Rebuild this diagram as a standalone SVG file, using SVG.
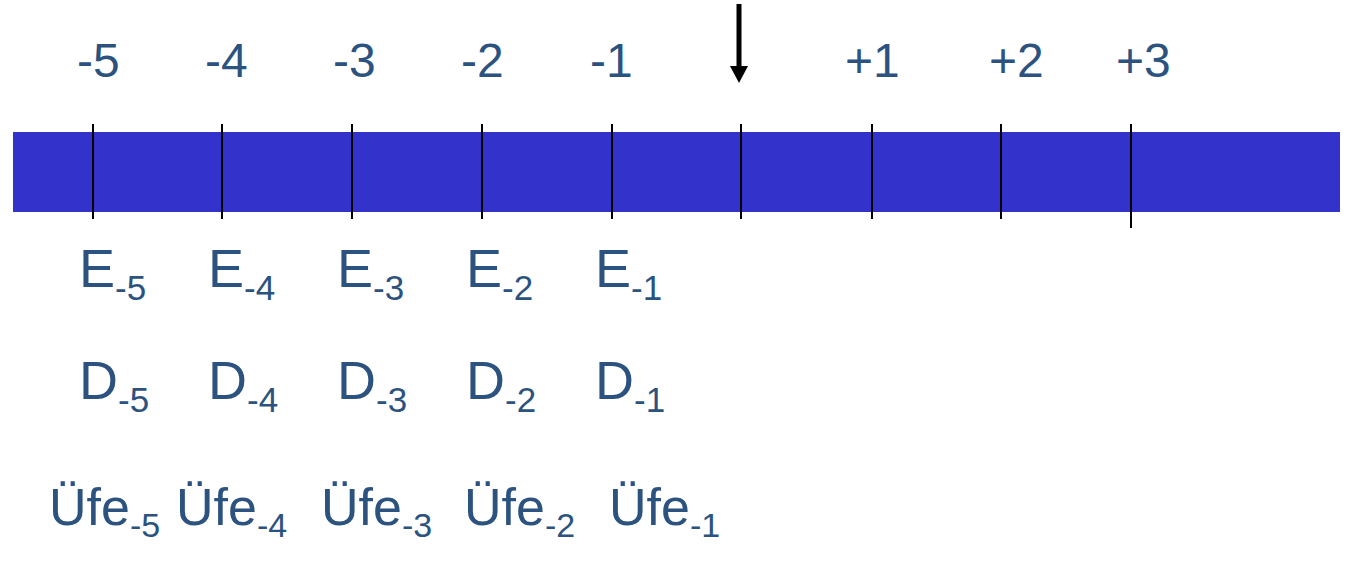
<svg xmlns="http://www.w3.org/2000/svg" width="1348" height="562" viewBox="0 0 1348 562">
  <style>
    text { font-family: "Liberation Sans", Arial, sans-serif; fill: #2C5380; }
    .num { font-size: 48px; }
    .lbl { font-size: 54px; }
    .ufe { font-size: 52px; }
    .sub { font-size: 35px; }
    .usub { font-size: 34px; }
    .tick { stroke: #000; stroke-width: 2; }
  </style>
  <rect width="1348" height="562" fill="#FFFFFF"/>
  <g id="bar">
    <rect x="13" y="132" width="1327" height="80" fill="#3333CC"/>
  </g>
  <g id="ticks">
    <line class="tick" x1="93" y1="124" x2="93" y2="219"/>
    <line class="tick" x1="222" y1="124" x2="222" y2="219"/>
    <line class="tick" x1="352" y1="124" x2="352" y2="219"/>
    <line class="tick" x1="482" y1="124" x2="482" y2="219"/>
    <line class="tick" x1="612" y1="124" x2="612" y2="219"/>
    <line class="tick" x1="741" y1="124" x2="741" y2="219"/>
    <line class="tick" x1="872" y1="124" x2="872" y2="219"/>
    <line class="tick" x1="1001" y1="124" x2="1001" y2="219"/>
    <line class="tick" x1="1131" y1="124" x2="1131" y2="228"/>
  </g>
  <g id="connectors">
    <line x1="739" y1="4" x2="739" y2="68" stroke="#000" stroke-width="5"/>
    <polygon points="730,66 748,66 739,83" fill="#000"/>
  </g>
  <g id="numbers">
    <text class="num" x="77" y="77">-5</text>
    <text class="num" x="205" y="77">-4</text>
    <text class="num" x="333" y="77">-3</text>
    <text class="num" x="461" y="77">-2</text>
    <text class="num" x="590" y="77">-1</text>
    <text class="num" x="845" y="77">+1</text>
    <text class="num" x="989" y="77">+2</text>
    <text class="num" x="1116" y="77">+3</text>
  </g>
  <g id="row-E">
    <text class="lbl" x="79" y="287">E<tspan class="sub" dy="13">-5</tspan></text>
    <text class="lbl" x="208" y="287">E<tspan class="sub" dy="13">-4</tspan></text>
    <text class="lbl" x="337" y="287">E<tspan class="sub" dy="13">-3</tspan></text>
    <text class="lbl" x="466" y="287">E<tspan class="sub" dy="13">-2</tspan></text>
    <text class="lbl" x="595" y="287">E<tspan class="sub" dy="13">-1</tspan></text>
  </g>
  <g id="row-D">
    <text class="lbl" x="79" y="399">D<tspan class="sub" dy="13">-5</tspan></text>
    <text class="lbl" x="208" y="399">D<tspan class="sub" dy="13">-4</tspan></text>
    <text class="lbl" x="337" y="399">D<tspan class="sub" dy="13">-3</tspan></text>
    <text class="lbl" x="466" y="399">D<tspan class="sub" dy="13">-2</tspan></text>
    <text class="lbl" x="595" y="399">D<tspan class="sub" dy="13">-1</tspan></text>
  </g>
  <g id="row-Ufe">
    <text class="ufe" x="49" y="525">Üfe<tspan class="usub" dy="12">-5</tspan></text>
    <text class="ufe" x="176" y="525">Üfe<tspan class="usub" dy="12">-4</tspan></text>
    <text class="ufe" x="321" y="525">Üfe<tspan class="usub" dy="12">-3</tspan></text>
    <text class="ufe" x="464" y="525">Üfe<tspan class="usub" dy="12">-2</tspan></text>
    <text class="ufe" x="609" y="525">Üfe<tspan class="usub" dy="12">-1</tspan></text>
  </g>
</svg>
